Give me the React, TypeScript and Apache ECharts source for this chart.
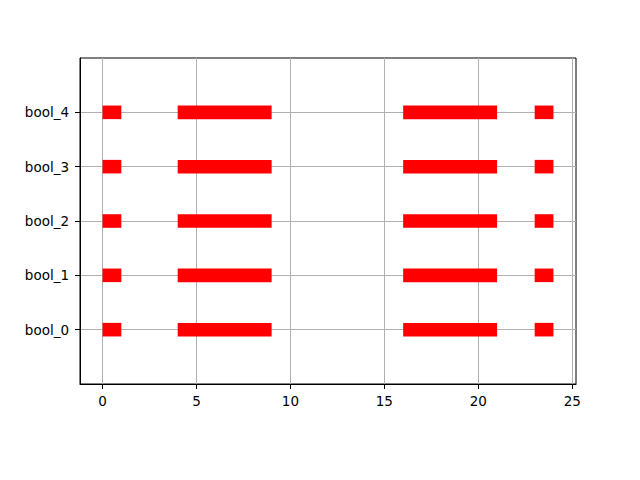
import { useEffect, useRef } from "react";
import * as echarts from "echarts";

const rowNames = ["bool_0", "bool_1", "bool_2", "bool_3", "bool_4"];
// [start, end] spans that are "on", same for every row
const spans = [
  [0, 1],
  [4, 9],
  [16, 21],
  [23, 24],
];
const xTicks = [0, 5, 10, 15, 20, 25];
const yTicks = [0, 1, 2, 3, 4];

export default function App() {
  const ref = useRef<HTMLDivElement>(null);

  useEffect(() => {
    if (!ref.current) return;
    const chart = echarts.init(ref.current, null, { renderer: "svg" });

    const data: number[][] = [];
    rowNames.forEach((_, row) => {
      spans.forEach(([s, e]) => data.push([s, e, row]));
    });

    const font = { fontFamily: "DejaVu Sans", fontSize: 13.5, color: "#000" };

    chart.setOption({
      animation: false,
      backgroundColor: "#fff",
      grid: {
        left: 80,
        right: 64,
        top: 58,
        bottom: 96,
        show: true,
        borderColor: "#000",
        borderWidth: 1,
      },
      xAxis: {
        type: "value",
        min: -1.2,
        max: 25.2,
        axisLine: { show: true, onZero: false, lineStyle: { color: "#000", width: 1 } },
        axisTick: {
          show: true,
          length: 5,
          lineStyle: { color: "#000" },
          customValues: xTicks,
        },
        axisLabel: { ...font, margin: 10, customValues: xTicks },
        splitLine: { show: true, lineStyle: { color: "#b0b0b0", width: 1 } },
      },
      yAxis: {
        type: "value",
        min: -1,
        max: 5,
        axisLine: { show: true, onZero: false, lineStyle: { color: "#000", width: 1 } },
        axisTick: {
          show: true,
          length: 5,
          lineStyle: { color: "#000" },
          customValues: yTicks,
        },
        axisLabel: {
          ...font,
          margin: 11,
          customValues: yTicks,
          formatter: (v: number) => rowNames[v] ?? "",
        },
        splitLine: { show: true, lineStyle: { color: "#b0b0b0", width: 1 } },
      },
      series: [
        {
          type: "custom",
          data,
          encode: { x: [0, 1], y: 2 },
          renderItem: (_params: any, api: any) => {
            const p0 = api.coord([api.value(0), api.value(2)]);
            const p1 = api.coord([api.value(1), api.value(2)]);
            const h = api.size([0, 0.25])[1];
            return {
              type: "rect",
              shape: { x: p0[0], y: p0[1] - h / 2, width: p1[0] - p0[0], height: h },
              style: { fill: "#ff0000" },
            };
          },
          z: 3,
        },
      ],
    });

    return () => chart.dispose();
  }, []);

  return (
    <div
      ref={ref}
      style={{ position: "absolute", left: 0, top: 0, width: 640, height: 480 }}
    />
  );
}
